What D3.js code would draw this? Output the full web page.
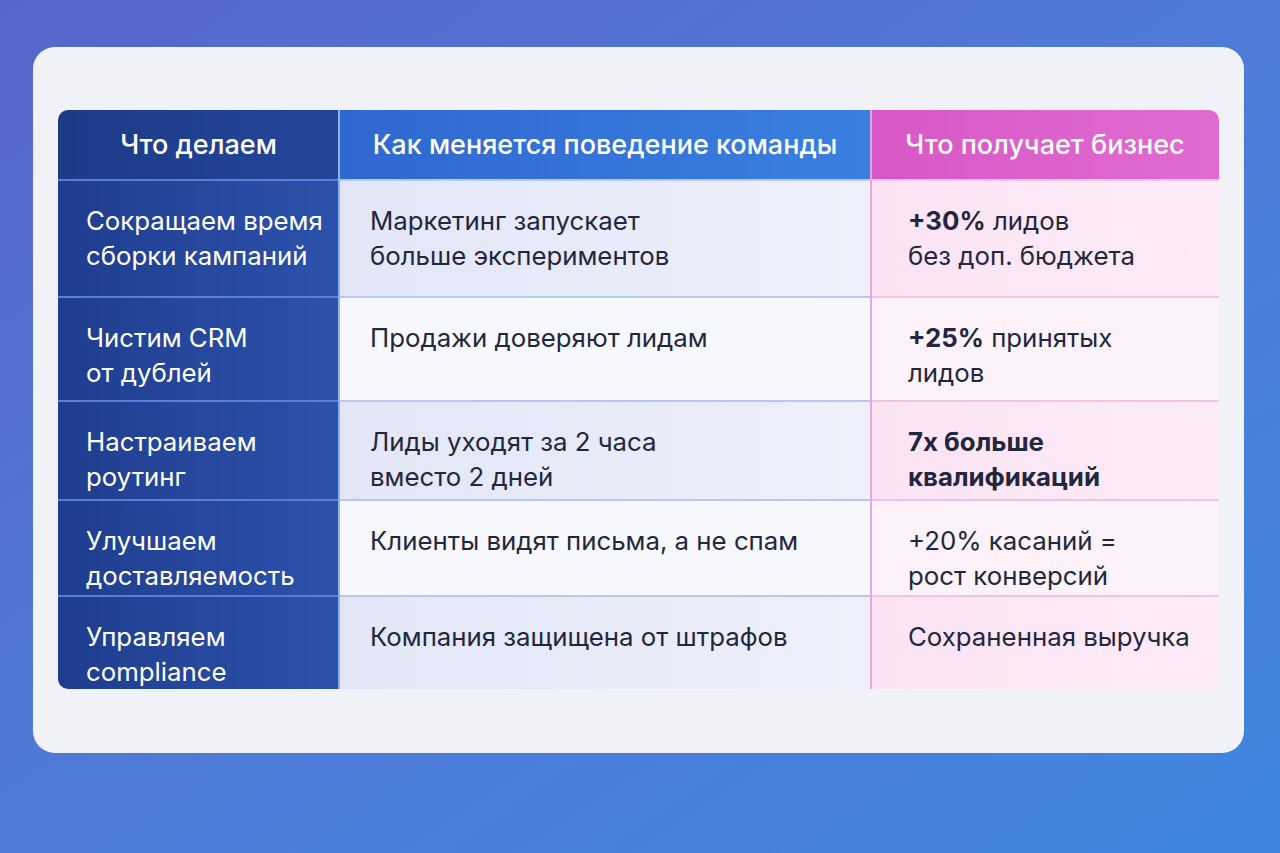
<!DOCTYPE html>
<html><head><meta charset="utf-8">
<script src="https://cdn.jsdelivr.net/npm/d3@7"></script>
<style>body{margin:0;overflow:hidden}</style></head>
<body><svg id="c" width="1280" height="853"></svg>
<script>
const headers = ["Что делаем","Как меняется поведение команды","Что получает бизнес"];
const actions = [["Сокращаем время","сборки кампаний"],["Чистим CRM","от дублей"],["Настраиваем","роутинг"],["Улучшаем","доставляемость"],["Управляем","compliance"]];
const behaviors = [["Маркетинг запускает","больше экспериментов"],["Продажи доверяют лидам"],["Лиды уходят за 2 часа","вместо 2 дней"],["Клиенты видят письма, а не спам"],["Компания защищена от штрафов"]];
const results = [
 [[["+30%",true],[" лидов",false]],[["без доп. бюджета",false]]],
 [[["+25%",true],[" принятых",false]],[["лидов",false]]],
 [[["7x больше",true]],[["квалификаций",true]]],
 [[["+20% касаний =",false]],[["рост конверсий",false]]],
 [[["Сохраненная выручка",false]]]
];
const colEdges = [58,339,871,1219];
const rowEdges = [110,180,297,401,500,596,689];

const svg = d3.select("#c");
const defs = svg.append("defs");
function lg(id, stops, x2="1", y2="0"){const g=defs.append("linearGradient").attr("id",id).attr("x1",0).attr("y1",0).attr("x2",x2).attr("y2",y2);
 stops.forEach((s,i)=>g.append("stop").attr("offset",i/(stops.length-1)).attr("stop-color",s));}
lg("bg",["#5766cc","#4f7bd8","#3f86e0"],"1","1");
lg("h1",["#1d3a86","#24469a"]);
lg("h2",["#2f68d0","#3a80e0"]);
lg("h3",["#d857c6","#e06cd0"]);
lg("c1",["#1f3d8e","#2c52ac"]);
lg("c2a",["#e2e6f6","#eef0fa"]);
lg("c3a",["#fbe3f3","#fcecf7"]);
defs.append("clipPath").attr("id","tc").append("rect").attr("x",58).attr("y",110).attr("width",1161).attr("height",579).attr("rx",10);

svg.append("rect").attr("width",1280).attr("height",853).attr("fill","url(#bg)");
svg.append("rect").attr("x",33).attr("y",47).attr("width",1211).attr("height",706).attr("rx",22).attr("fill","#f1f2f8");

const x = d3.scaleOrdinal().domain([0,1,2]).range(colEdges.slice(0,3));
const w = i=>colEdges[i+1]-colEdges[i];
const g = svg.append("g").attr("clip-path","url(#tc)");
const font="Inter, 'Open Sans', sans-serif";
const hf=["url(#h1)","url(#h2)","url(#h3)"];
headers.forEach((h,i)=>{
 g.append("rect").attr("x",x(i)).attr("y",rowEdges[0]).attr("width",w(i)).attr("height",rowEdges[1]-rowEdges[0]).attr("fill",hf[i]);
 g.append("text").attr("x",x(i)+w(i)/2).attr("y",154).attr("text-anchor","middle").attr("fill","#fff")
  .attr("font-family",font).attr("font-size",27).attr("font-weight",500).text(h);
});
const fs=25.8, lh=35;
actions.forEach((a,r)=>{
 const y0=rowEdges[r+1], y1=rowEdges[r+2], hh=y1-y0;
 const fills=["url(#c1)", r%2==0?"url(#c2a)":"#f7f8fd", r%2==0?"url(#c3a)":"#fdf2f9"];
 fills.forEach((f,i)=>g.append("rect").attr("x",x(i)).attr("y",y0).attr("width",w(i)).attr("height",hh).attr("fill",f));
 const ty=y0+50;
 a.forEach((t,k)=>g.append("text").attr("x",86).attr("y",ty+k*lh).attr("fill","#fff").attr("font-family",font).attr("font-size",fs).text(t));
 behaviors[r].forEach((t,k)=>g.append("text").attr("x",370).attr("y",ty+k*lh).attr("fill","#23263f").attr("font-family",font).attr("font-size",fs).text(t));
 results[r].forEach((line,k)=>{
  const tx=g.append("text").attr("x",908).attr("y",ty+k*lh).attr("fill","#23263f").attr("font-family",font).attr("font-size",fs);
  line.forEach(([s,b])=>tx.append("tspan").attr("font-weight",b?700:400).text(s));
 });
});
for(let r=1;r<rowEdges.length-1;r++){
 g.append("line").attr("x1",58).attr("x2",339).attr("y1",rowEdges[r]).attr("y2",rowEdges[r]).attr("stroke","#5a7fd8").attr("stroke-width",2);
 g.append("line").attr("x1",339).attr("x2",871).attr("y1",rowEdges[r]).attr("y2",rowEdges[r]).attr("stroke","#b9c6ee").attr("stroke-width",2);
 g.append("line").attr("x1",871).attr("x2",1219).attr("y1",rowEdges[r]).attr("y2",rowEdges[r]).attr("stroke","#f0c4e6").attr("stroke-width",2);
}
g.append("line").attr("x1",339).attr("x2",339).attr("y1",110).attr("y2",689).attr("stroke","#8fb0ec").attr("stroke-width",2);
g.append("line").attr("x1",871).attr("x2",871).attr("y1",110).attr("y2",689).attr("stroke","#e8a6dc").attr("stroke-width",2);
</script></body></html>
